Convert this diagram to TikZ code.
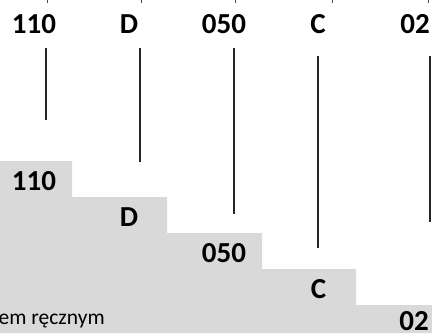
\documentclass[tikz,border=0pt]{standalone}
\usepackage{fontspec}
\setmainfont{Carlito}
\begin{document}
\begin{tikzpicture}[x=1pt,y=-1pt,
  code/.style={font=\bfseries\fontsize{29}{32}\selectfont, anchor=base, inner sep=0pt},
  note/.style={font=\fontsize{21.5}{24}\selectfont, anchor=base west, inner sep=0pt},
  leader/.style={draw=black!85, line width=1.1pt},
  tick/.style={draw=black!70, line width=1pt}]
\useasboundingbox (0,0) rectangle (432,333);
\begin{scope}
\clip (0,0) rectangle (432,333);
% staircase background
\fill[black!15] (0,161) -- (72,161) -- (72,197) -- (167,197) -- (167,233)
  -- (262,233) -- (262,269) -- (356,269) -- (356,305) -- (432,305)
  -- (432,333) -- (0,333) -- cycle;

% code segments on top
\node[code] (t1) at (34,33) {110};
\node[code] (t2) at (129,33) {D};
\node[code] (t3) at (224,33) {050};
\node[code] (t4) at (318,33) {C};
\node[code] (t5) at (415,33) {02};

% the same segments on the steps
\node[code] (s1) at (34,190) {110};
\node[code] (s2) at (129,226) {D};
\node[code] (s3) at (224,262) {050};
\node[code] (s4) at (318.5,298) {C};
\node[code] (s5) at (414,330.5) {02};

\node[note] (n1) at (-1.5,324) {em ręcznym};

% short marks along the top edge
\foreach \i/\x in {1/47,2/141,3/235,4/332,5/428}{
  \coordinate (m\i a) at (\x,0);
  \coordinate (m\i b) at (\x,3);
  \draw[tick] (m\i a) -- (m\i b);
}

% leader lines
\coordinate (a1) at (46,48);  \coordinate (b1) at (46,120);
\coordinate (a2) at (140,48); \coordinate (b2) at (140,162);
\coordinate (a3) at (234,48); \coordinate (b3) at (234,214);
\coordinate (a4) at (318,56); \coordinate (b4) at (318,248);
\coordinate (a5) at (430,56); \coordinate (b5) at (430,222);
\foreach \i in {1,...,5}{\draw[leader] (a\i) -- (b\i);}
\end{scope}
\end{tikzpicture}
\end{document}
